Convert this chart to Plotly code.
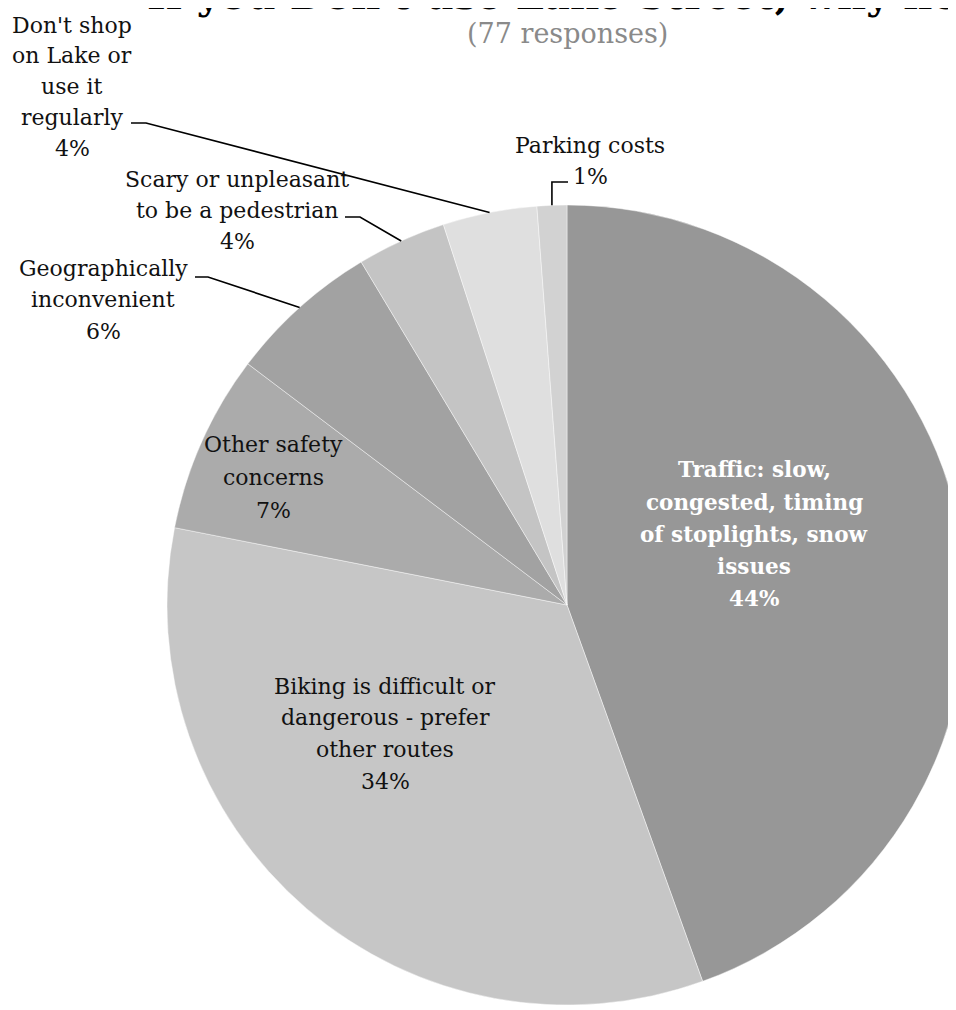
import math
import plotly.graph_objects as go

# ---------------- data ----------------
categories = [
    "Traffic: slow, congested, timing of stoplights, snow issues",
    "Biking is difficult or dangerous - prefer other routes",
    "Other safety concerns",
    "Geographically inconvenient",
    "Scary or unpleasant to be a pedestrian",
    "Don't shop on Lake or use it regularly",
    "Parking costs",
]
# shares (labels show them rounded)
shares = [44.49, 33.6, 7.2, 6.1, 3.6, 3.8, 1.2]
wrapped_labels = [
    ["Traffic: slow,", "congested, timing", "of stoplights, snow", "issues"],
    ["Biking is difficult or", "dangerous - prefer", "other routes"],
    ["Other safety", "concerns"],
    ["Geographically", "inconvenient"],
    ["Scary or unpleasant", "to be a pedestrian"],
    ["Don't shop", "on Lake or", "use it", "regularly"],
    ["Parking costs"],
]
title_text = "If you Don't use Lake Street, why not?"
subtitle_text = "(77 responses)"

# ---------------- styles / layout ----------------
slice_colors = ["#979797", "#c6c6c6", "#ababab", "#a2a2a2", "#c4c4c4", "#dfdfdf", "#d2d2d2"]
W, H = 960, 1010
OFF = 8                      # page body margin
CX, CY = 567 - OFF, 605 - OFF  # pie centre in figure pixels
R = 400
FONT = "DejaVu Serif, Liberation Serif, serif"


def px(x, y):
    """page pixel position (as measured on the reference) -> paper coords"""
    return (x - OFF) / W, 1 - (y - OFF) / H


def fpx(x, y):
    """figure pixel position -> paper coords"""
    return x / W, 1 - y / H


# label placements (page px): x centre, first line centre y, line step, size, bold, colour
label_layout = [
    dict(x=754, y=470, dy=32, size=21.5, bold=True, color="white"),
    dict(x=385, y=686, dy=31.7, size=22, bold=False, color="#111111"),
    dict(x=273, y=445, dy=32.5, size=22, bold=False, color="#111111"),
    dict(x=103, y=268, dy=31.5, size=22, bold=False, color="#111111"),
    dict(x=237, y=179, dy=31.5, size=22, bold=False, color="#111111"),
    dict(x=72, y=25, dy=30.8, size=22, bold=False, color="#111111"),
    dict(x=590, y=145, dy=31, size=22, bold=False, color="#111111"),
]

# leader lines: (label end x, bend x, y) in page px, for outside labels
leaders = {
    3: (195, 208, 277),
    4: (345, 360, 217),
    5: (131, 146, 123),
}

fig = go.Figure()
fig.add_trace(go.Pie(
    labels=categories,
    values=shares,
    sort=False,
    direction="clockwise",
    rotation=0,
    textinfo="none",
    hoverinfo="label+percent",
    marker=dict(colors=slice_colors, line=dict(color="rgba(255,255,255,0.55)", width=0.8)),
    domain=dict(x=[(CX - R) / W, (CX + R) / W], y=[(H - CY - R) / H, (H - CY + R) / H]),
    showlegend=False,
))

total = sum(shares)
annotations = []
for i, lay in enumerate(label_layout):
    lines = wrapped_labels[i] + [f"{round(shares[i] / total * 100)}%"]
    for k, t in enumerate(lines):
        ax, ay = px(lay["x"], lay["y"] + k * lay["dy"])
        txt = f"<b>{t}</b>" if lay["bold"] else t
        annotations.append(dict(
            x=ax, y=ay, xref="paper", yref="paper", text=txt, showarrow=False,
            xanchor="center", yanchor="middle",
            font=dict(family=FONT, size=lay["size"], color=lay["color"]),
        ))

# title & subtitle
tx, ty = px(574, -5)
annotations.append(dict(x=tx, y=ty, xref="paper", yref="paper", text=f"<b>{title_text}</b>",
                        showarrow=False, xanchor="center", yanchor="middle",
                        font=dict(family=FONT, size=40, color="#000000")))
sx, sy = px(567.5, 33)
annotations.append(dict(x=sx, y=sy, xref="paper", yref="paper", text=subtitle_text,
                        showarrow=False, xanchor="center", yanchor="middle",
                        font=dict(family=FONT, size=27, color="#8a8a8a")))

# leader lines to slice mid-angles (computed from the data)
cum = 0
mids = []
for v in shares:
    mids.append((cum + v / 2) / total * 2 * math.pi)
    cum += v


def edge(i):
    """figure px of the pie rim at the middle of slice i"""
    th = mids[i]
    return CX + R * math.sin(th), CY - R * math.cos(th)


def path_of(pts):
    return "M " + " L ".join(f"{a} {b}" for a, b in pts)


shapes = []
for i, (sx0, bx, by) in leaders.items():
    ex, ey = edge(i)
    pts = [px(sx0, by), px(bx, by), fpx(ex, ey)]
    shapes.append(dict(type="path", xref="paper", yref="paper", path=path_of(pts),
                       line=dict(color="black", width=1.6)))
# parking costs leader (horizontal then vertical)
ex, ey = edge(6)
pts = [px(568, 182), fpx(ex, 182 - OFF), fpx(ex, ey)]
shapes.append(dict(type="path", xref="paper", yref="paper", path=path_of(pts),
                   line=dict(color="black", width=1.6)))

fig.update_layout(
    width=W, height=H,
    margin=dict(l=0, r=0, t=0, b=0),
    paper_bgcolor="white",
    plot_bgcolor="white",
    annotations=annotations,
    shapes=shapes,
)

fig.write_html("out.html")
